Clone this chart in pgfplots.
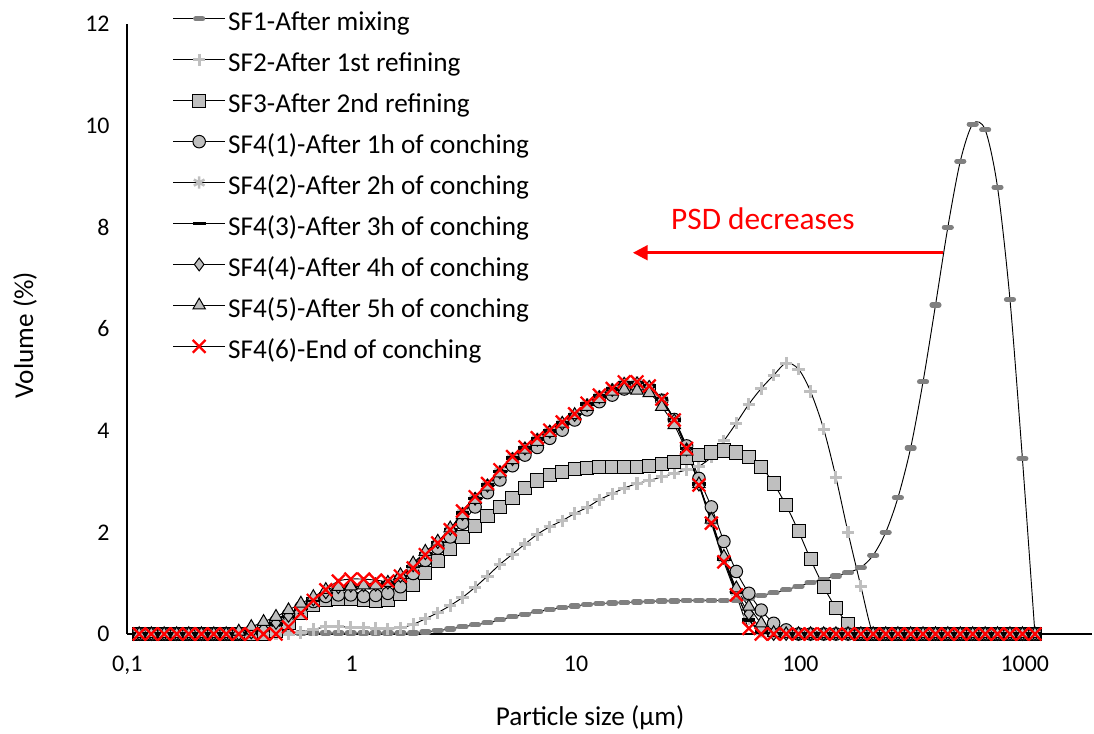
\documentclass[border=0pt]{standalone}
\usepackage{fontspec}
\setmainfont{Carlito}
\usepackage{pgfplots}
\pgfplotsset{compat=1.18}
\usepackage{pgfplotstable}
\usetikzlibrary{arrows.meta}
\definecolor{lgrey}{HTML}{BFBFBF}
\definecolor{dgrey}{HTML}{808080}

% particle size (um) and volume (%) per sample
\pgfplotstableread{
x     sfa   sfb   sfc   ca    cb    cc    cd    ce    cf
0.113 0     0     0     0     0     0     0     0     0
0.128 0     0     0     0     0     0     0     0     0
0.146 0     0     0     0     0     0     0     0     0
0.166 0     0     0     0     0     0     0     0     0
0.188 0     0     0     0     0     0     0     0     0
0.214 0     0     0     0     0     0     0     0     0
0.243 0     0     0     0     0     0     0     0     0
0.276 0     0     0     0     0     0     0     0     0
0.314 0     0     0     0     0     0     0     0.05  0
0.357 0     0     0     0.05  0     0.03  0.03  0.14  0
0.405 0     0     0     0.14  0.05  0.10  0.10  0.24  0
0.460 0.01  0     0.06  0.25  0.15  0.20  0.22  0.34  0
0.523 0.02  0     0.22  0.38  0.30  0.34  0.36  0.47  0.14
0.594 0.02  0.03  0.42  0.52  0.48  0.50  0.52  0.60  0.41
0.675 0.02  0.09  0.58  0.64  0.65  0.66  0.68  0.73  0.66
0.767 0.02  0.14  0.67  0.74  0.80  0.80  0.82  0.87  0.87
0.872 0.02  0.15  0.69  0.77  0.90  0.90  0.92  0.93  1.04
0.991 0.02  0.13  0.68  0.77  0.94  0.94  0.95  0.94  1.08
1.13  0.02  0.12  0.66  0.74  0.95  0.95  0.96  0.96  1.08
1.28  0.02  0.11  0.65  0.76  0.96  0.96  0.97  0.96  1.06
1.45  0.02  0.10  0.66  0.80  1.00  1.00  1.01  1.01  1.04
1.65  0.02  0.12  0.78  0.93  1.12  1.12  1.14  1.16  1.14
1.88  0.02  0.19  0.97  1.19  1.33  1.33  1.35  1.39  1.30
2.13  0.04  0.30  1.20  1.45  1.57  1.57  1.59  1.62  1.56
2.42  0.07  0.42  1.44  1.69  1.80  1.80  1.81  1.82  1.79
2.75  0.10  0.56  1.67  1.91  2.06  2.06  2.07  2.08  2.05
3.12  0.14  0.72  1.90  2.18  2.38  2.38  2.36  2.34  2.42
3.55  0.18  0.92  2.12  2.50  2.67  2.67  2.66  2.64  2.70
4.03  0.22  1.14  2.33  2.78  2.93  2.93  2.92  2.90  2.96
4.58  0.28  1.37  2.50  3.03  3.20  3.20  3.18  3.16  3.23
5.21  0.34  1.57  2.68  3.31  3.46  3.46  3.44  3.42  3.49
5.92  0.39  1.77  2.87  3.52  3.66  3.66  3.65  3.63  3.68
6.72  0.44  1.96  3.02  3.67  3.84  3.84  3.82  3.78  3.86
7.64  0.48  2.11  3.13  3.85  3.99  3.99  3.98  3.96  4.01
8.68  0.52  2.23  3.19  4.01  4.15  4.15  4.14  4.14  4.17
9.86  0.55  2.37  3.24  4.21  4.32  4.32  4.31  4.31  4.33
11.2  0.58  2.49  3.26  4.41  4.52  4.52  4.50  4.47  4.54
12.7  0.60  2.64  3.28  4.57  4.68  4.68  4.66  4.62  4.70
14.5  0.61  2.76  3.28  4.70  4.82  4.82  4.80  4.77  4.83
16.4  0.62  2.87  3.28  4.82  4.94  4.94  4.92  4.81  4.96
18.7  0.63  2.96  3.29  4.88  4.95  4.95  4.93  4.79  4.96
21.2  0.64  3.02  3.31  4.83  4.88  4.88  4.86  4.74  4.88
24.1  0.65  3.09  3.34  4.60  4.62  4.62  4.60  4.47  4.62
27.4  0.65  3.16  3.39  4.22  4.21  4.21  4.20  4.11  4.21
31.1  0.66  3.23  3.46  3.70  3.65  3.65  3.63  3.59  3.65
35.3  0.66  3.30  3.52  3.06  2.95  2.95  2.94  2.95  2.93
40.1  0.66  3.48  3.57  2.50  2.22  2.22  2.24  2.25  2.18
45.6  0.66  3.80  3.61  1.82  1.48  1.48  1.50  1.52  1.42
51.8  0.67  4.15  3.57  1.23  0.82  0.82  0.86  0.90  0.77
58.9  0.70  4.52  3.48  0.80  0.30  0.28  0.40  0.54  0.11
66.9  0.76  4.83  3.29  0.47  0.05  0.04  0.12  0.21  0
76.0  0.81  5.09  2.96  0.21  0     0     0     0.02  0
86.4  0.87  5.33  2.53  0.08  0     0     0     0     0
98.1  0.94  5.21  2.02  0     0     0     0     0     0
111   1.01  4.77  1.47  0     0     0     0     0     0
127   1.08  4.03  0.93  0     0     0     0     0     0
144   1.14  3.08  0.51  0     0     0     0     0     0
163   1.21  2.00  0.20  0     0     0     0     0     0
186   1.31  0.94  0     0     0     0     0     0     0
211   1.55  0     0     0     0     0     0     0     0
240   2.00  0     0     0     0     0     0     0     0
272   2.68  0     0     0     0     0     0     0     0
310   3.66  0     0     0     0     0     0     0     0
352   4.96  0     0     0     0     0     0     0     0
400   6.47  0     0     0     0     0     0     0     0
454   8.00  0     0     0     0     0     0     0     0
516   9.30  0     0     0     0     0     0     0     0
586   10.03 0     0     0     0     0     0     0     0
666   9.92  0     0     0     0     0     0     0     0
756   8.79  0     0     0     0     0     0     0     0
859   6.58  0     0     0     0     0     0     0     0
976   3.45  0     0     0     0     0     0     0     0
1110  0     0     0     0     0     0     0     0     0
}\psd

\begin{document}
\begin{tikzpicture}
\begin{axis}[
  scale only axis,
  width=723.75pt, height=457.5pt,
  xmode=log, xmin=0.1, xmax=2000,
  ymin=0, ymax=12,
  clip=false,
  axis x line*=bottom, axis y line*=left,
  axis line style={-, line width=1.5pt, black},
  xtick={0.1,1,10,100,1000},
  xticklabels={{0,1},1,10,100,1000},
  ytick={0,2,4,6,8,10,12},
  yticklabels={0,2,4,6,8,10,12},
  major tick length=0pt, minor tick length=0pt,
  ticklabel style={font=\fontsize{17.9}{21}\selectfont},
  xticklabel style={yshift=-13pt},
  yticklabel style={xshift=-9.75pt},
  xlabel={Particle size (µm)},
  ylabel={Volume (\%)},
  label style={font=\fontsize{20.4}{24}\selectfont},
  xlabel style={at={(axis description cs:0.4795,-0.1377)}, anchor=center},
  ylabel style={at={(axis description cs:-0.106,0.49)}, anchor=center},
  every axis plot/.append style={black, line width=0.7pt, smooth, tension=0.5},
  legend image code/.code={\draw[mark repeat=2,mark phase=2,#1] plot coordinates {(0pt,4.3pt) (19.5pt,4.3pt) (39pt,4.3pt)};},
  legend cell align=left,
  legend style={draw=none, fill=none, inner sep=0pt, row sep=0pt,
    at={(axis description cs:0.0468,1.0330)}, anchor=north west,
    font=\fontsize{20.4}{24}\selectfont,
    nodes={inner xsep=1.9pt, inner ysep=6.1pt, text height=14pt, text depth=4.5pt}},
]
\addplot[mark=-, mark size=2.6pt, mark options={draw=dgrey, line width=3.9pt, line cap=round, solid}] table[x=x,y=sfa] {\psd};
\addlegendentry{SF1-After mixing}
\addplot[mark=+, mark size=4.6pt, mark options={draw=lgrey, line width=2.3pt, solid}] table[x=x,y=sfb] {\psd};
\addlegendentry{SF2-After 1st refining}
\addplot[mark=square*, mark size=4.9pt, mark options={fill=lgrey, draw=black, line width=0.75pt, solid}] table[x=x,y=sfc] {\psd};
\addlegendentry{SF3-After 2nd refining}
\addplot[mark=*, mark size=4.7pt, mark options={fill=lgrey, draw=black, line width=0.75pt, solid}] table[x=x,y=ca] {\psd};
\addlegendentry{SF4(1)-After 1h of conching}
\addplot[mark=asterisk, mark size=4.6pt, mark options={draw=lgrey, line width=1.9pt, solid}] table[x=x,y=cb] {\psd};
\addlegendentry{SF4(2)-After 2h of conching}
\addplot[mark=-, mark size=5pt, mark options={draw=black, line width=2.6pt, solid}] table[x=x,y=cc] {\psd};
\addlegendentry{SF4(3)-After 3h of conching}
\addplot[mark=diamond*, mark size=4.8pt, mark options={fill=lgrey, draw=black, line width=0.75pt, solid}] table[x=x,y=cd] {\psd};
\addlegendentry{SF4(4)-After 4h of conching}
\addplot[mark=triangle*, mark size=5.4pt, mark options={fill=lgrey, draw=black, line width=0.75pt, solid}] table[x=x,y=ce] {\psd};
\addlegendentry{SF4(5)-After 5h of conching}
\addplot[mark=x, mark size=6.8pt, mark options={draw=red, line width=1.7pt, solid}] table[x=x,y=cf] {\psd};
\addlegendentry{SF4(6)-End of conching}

\node[text=red, font=\fontsize{23.5}{28}\selectfont] at (axis cs:68.1,8.16) {PSD decreases};
\draw[red, line width=2pt, -{Triangle[length=11pt, width=11pt]}] (axis cs:431.5,7.5) -- (axis cs:17.93,7.5);

\coordinate (bbsw) at (axis description cs:-0.1319,-0.1623);
\coordinate (bbne) at (axis description cs:1.00176,1.0393);
\end{axis}
\pgfresetboundingbox
\path (bbsw) rectangle (bbne);
\end{tikzpicture}
\end{document}
